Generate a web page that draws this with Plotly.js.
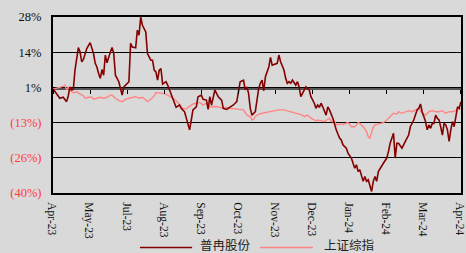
<!DOCTYPE html>
<html>
<head>
<meta charset="utf-8">
<script src="https://cdn.plot.ly/plotly-3.0.1.min.js"></script>
<style>html,body{margin:0;padding:0;background:#d9d9d9;}#chart{width:466px;height:253px;}</style>
</head>
<body>
<div id="chart"></div>
<script>
// trading-day index (0 = start of Apr-23) and cumulative return (%)
const stockDays = [0,4,6,8,9,10,11,12,13,15,16,17,18,20,22,24,25,26,27,28,
  29,30,31,32,34,35,36,37,39,41,42,44,45,46,47,49,50,51,52,53,
  54,55,56,57,58,59,60,61,62,63,64,65,67,68,70,71,73,75,76,78,
  79,81,82,83,85,86,88,89,91,92,93,94,96,97,98,100,101,103,105,107,
  109,110,111,113,114,115,116,117,118,120,121,122,123,124,125,126,127,128,129,130,
  133,134,135,137,138,139,140,141,142,144,145,146,147,148,150,151,152,153,155,156,
  157,158,159,160,162,163,164,166,167,168,170,171,172,174,175,177,178,179,180,181,
  182,183,184,185,186,187,188,189,190,191,192,193,196,198,199,200,202,203,204,205,
  207,208,209,210,211,212,214,215,216,217,218,219,220,221,222,223,224,225,226,227,
  228,229,230,231,232,233,234,235,236,237,238,239,240,241,242];
const stockVals = [0.2,-3.4,-3.0,-4.7,-2.5,1.0,-0.2,0.0,7.5,16.2,14.5,10.7,11.6,15.8,18.1,13.9,10.1,8.7,6.2,4.3,
  7.7,5.5,13.3,10.3,14.5,16.2,13.9,5.5,3.0,-2.2,1.0,2.4,3.0,17.8,16.4,16.1,22.9,21.0,28.0,24.8,
  23.5,22.2,13.9,12.6,11.3,11.3,7.5,6.8,3.6,7.5,8.1,2.1,3.0,1.7,-1.5,-3.0,-6.9,-6.0,-7.3,-8.6,
  -11.1,-15.6,-11.8,-7.9,-6.7,-2.8,-2.2,-3.8,-4.1,-7.7,-2.8,-6.0,-0.2,-1.5,-2.8,-4.1,-7.3,-7.7,-6.9,-6.0,
  -4.7,-0.9,3.0,3.6,-0.2,1.0,-1.5,-7.3,-9.9,-8.6,-4.7,0.4,2.4,3.6,-0.5,4.9,6.8,8.7,12.4,9.4,
  10.1,13.3,10.7,7.5,4.3,2.4,3.0,2.4,3.6,1.7,3.0,1.0,-2.8,-1.5,1.0,0.4,-0.2,-2.8,-5.3,-7.3,
  -6.0,-6.9,-5.3,-6.7,-9.9,-6.7,-7.9,-11.1,-13.7,-15.6,-18.8,-19.5,-21.4,-22.7,-24.6,-26.5,-28.5,-30.4,-29.1,-31.7,
  -31.0,-33.6,-35.5,-33.6,-35.5,-34.9,-37.5,-39.4,-35.5,-33.6,-35.5,-31.7,-28.5,-26.5,-24.0,-20.8,-16.9,-26.5,-20.8,-20.8,
  -22.7,-21.4,-19.5,-18.8,-17.6,-14.4,-11.8,-9.9,-7.9,-7.3,-5.6,-8.6,-10.5,-12.4,-15.6,-13.7,-15.0,-13.1,-13.1,-9.9,
  -11.1,-11.8,-14.4,-17.6,-13.1,-13.7,-15.6,-20.1,-15.6,-12.4,-14.4,-9.9,-6.7,-7.3,-4.7];

const indexDays = [0,2,4,6,7,8,9,11,12,14,16,18,19,21,23,24,26,28,30,32,
  34,35,37,39,41,43,45,47,49,51,53,55,56,58,60,61,63,65,67,69,
  71,73,75,77,79,81,83,85,87,89,91,93,97,101,103,105,109,112,113,115,
  117,118,119,120,121,124,128,132,134,137,141,145,148,149,151,153,156,157,160,161,
  164,165,167,168,171,172,175,177,179,181,182,184,186,187,188,189,190,191,193,196,
  198,199,200,202,204,205,207,209,211,213,215,217,219,221,223,225,227,229,231,233,
  235,237,239,241,242];
const indexVals = [0.2,0.4,0.8,1.3,1.7,-0.2,0.8,-0.9,-1.3,-0.9,-1.8,-2.5,-3.4,-3.0,-3.0,-3.8,-3.4,-3.0,-3.4,-3.0,
  -2.2,-2.2,-3.4,-4.3,-4.7,-3.8,-3.4,-3.0,-2.8,-3.4,-3.0,-4.1,-4.7,-3.8,-2.5,-1.2,-1.3,-1.5,-1.8,-2.5,
  -3.4,-4.3,-5.6,-7.3,-7.5,-6.7,-5.6,-5.3,-5.0,-6.0,-5.3,-6.7,-6.6,-7.3,-6.9,-7.3,-7.5,-7.9,-7.9,-9.9,
  -10.5,-11.8,-11.5,-10.5,-9.9,-9.2,-8.6,-8.1,-7.9,-7.9,-8.6,-9.2,-9.9,-10.5,-9.9,-11.1,-12.1,-11.8,-12.4,-12.4,
  -11.1,-12.4,-12.4,-13.7,-13.3,-13.5,-12.8,-14.4,-14.4,-12.8,-13.1,-14.4,-16.3,-18.2,-18.8,-16.9,-14.4,-13.7,-13.3,-12.8,
  -11.8,-11.1,-10.5,-9.2,-9.5,-8.6,-9.2,-8.6,-8.2,-8.6,-7.9,-7.3,-9.2,-9.9,-8.6,-8.2,-8.6,-8.6,-8.2,-9.2,
  -8.6,-8.6,-8.2,-7.3,-7.7];

const seriesNames = ['普冉股份', '上证综指'];
const xTickVals = [0,22,44,66,88,110,132,154,176,198,220,242];
const xTickLabels = ['Apr-23','May-23','Jul-23','Aug-23','Sep-23','Oct-23','Nov-23','Dec-23','Jan-24','Feb-24','Mar-24','Apr-24'];
const yTickVals = [28,14.4,0.8,-12.8,-26.4,-40];
const yTickLabels = ['28%','14%','1%','(13%)','(26%)','(40%)'];

const dark = '#850000', pink = '#ff8585', negRed = '#ff3b3b';
const serif = 'Liberation Serif, Times New Roman, serif';

const traces = [
  {x: indexDays, y: indexVals, name: seriesNames[1], type: 'scatter', mode: 'lines',
   line: {color: pink, width: 1.4}, hoverinfo: 'skip'},
  {x: stockDays, y: stockVals, name: seriesNames[0], type: 'scatter', mode: 'lines',
   line: {color: dark, width: 1.6}, hoverinfo: 'skip'},
  {x: [xTickVals[0], xTickVals[xTickVals.length-1]], y: [null, null], xaxis: 'x2', yaxis: 'y',
   type: 'scatter', mode: 'lines', showlegend: false, hoverinfo: 'skip'}
];

const xRange = [-0.05, 242.05];
const yRange = [-40, 28];
const layout = {
  width: 466, height: 253,
  margin: {l: 53, r: 5, t: 17, b: 60},
  paper_bgcolor: '#d9d9d9', plot_bgcolor: '#d9d9d9',
  showlegend: false,
  xaxis: {range: xRange, tickmode: 'array', tickvals: xTickVals, ticktext: xTickLabels,
    tickangle: 90, tickfont: {family: serif, size: 11.5, color: '#111'}, ticks: '',
    ticklabelstandoff: 5, ticklabelshift: -1, ticklabeloverflow: 'allow', showgrid: false, zeroline: false,
    showline: true, linecolor: '#000', linewidth: 2, mirror: true},
  xaxis2: {overlaying: 'x', anchor: 'free', position: (0 - yRange[0]) / (yRange[1] - yRange[0]),
    range: xRange, tickmode: 'array', tickvals: xTickVals, ticks: 'outside', ticklen: 4,
    tickwidth: 1.3, tickcolor: '#000', showticklabels: false, showline: false, showgrid: false, zeroline: false},
  yaxis: {range: yRange, tickmode: 'array', tickvals: yTickVals,
    ticktext: yTickLabels.map(t => t.startsWith('(') ? '<span style="color:' + negRed + '">' + t + '</span>' : t),
    tickfont: {family: serif, size: 12.5, color: '#111'}, ticks: '', ticklabelstandoff: 7,
    showgrid: true, gridcolor: '#000', gridwidth: 1.2,
    zeroline: true, zerolinecolor: '#555', zerolinewidth: 2,
    showline: true, linecolor: '#000', linewidth: 2, mirror: true},
  shapes: [
    {type: 'line', xref: 'paper', yref: 'paper', x0: 0.213, x1: 0.341, y0: -0.31, y1: -0.31,
     line: {color: dark, width: 1.6}},
    {type: 'line', xref: 'paper', yref: 'paper', x0: 0.507, x1: 0.637, y0: -0.31, y1: -0.31,
     line: {color: pink, width: 1.6}}
  ],
  annotations: [
    {xref: 'paper', yref: 'paper', x: 0.356, y: -0.294, xanchor: 'left', yanchor: 'middle', showarrow: false,
     text: seriesNames[0], font: {family: 'Noto Sans CJK SC', size: 12.5, color: '#222'}},
    {xref: 'paper', yref: 'paper', x: 0.66, y: -0.294, xanchor: 'left', yanchor: 'middle', showarrow: false,
     text: seriesNames[1], font: {family: 'Noto Sans CJK SC', size: 12.5, color: '#222'}}
  ]
};

Plotly.newPlot('chart', traces, layout, {displayModeBar: false, staticPlot: true});
</script>
</body>
</html>
